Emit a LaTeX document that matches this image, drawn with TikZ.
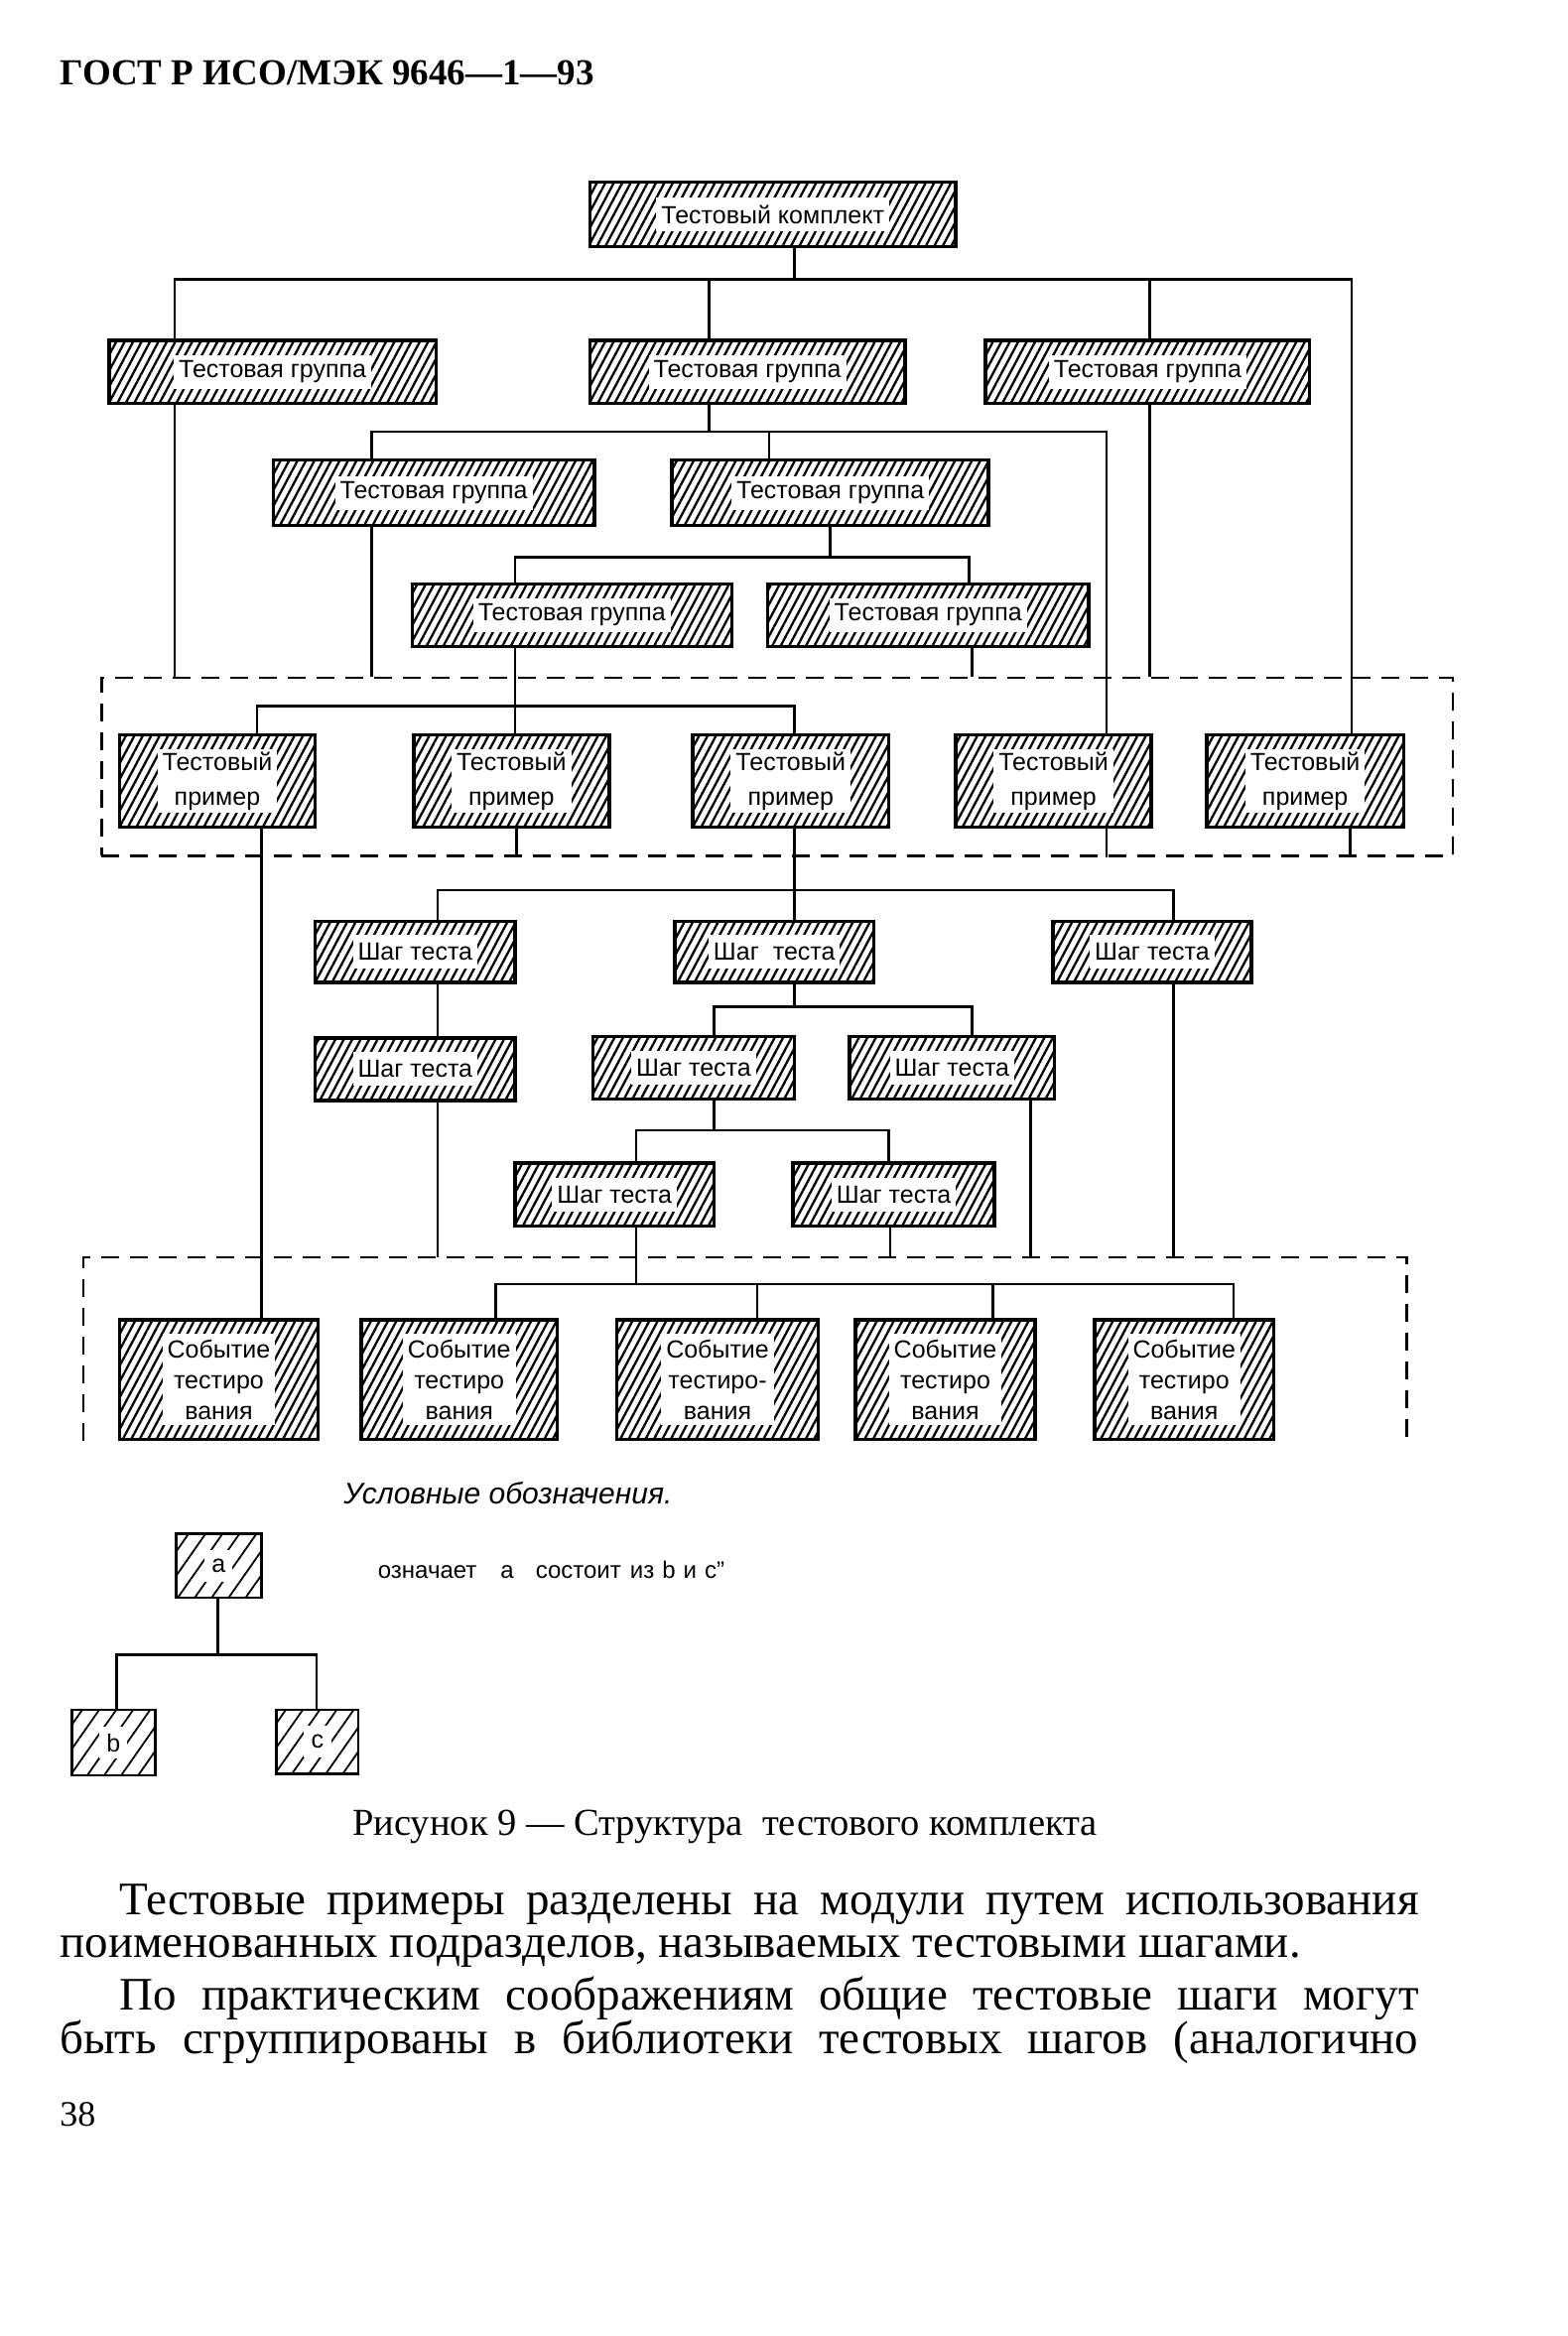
\documentclass[tikz,border=0pt]{standalone}
\usepackage{fontspec}
\setmainfont{Liberation Serif}
\newfontfamily\boxfont{Liberation Sans}
\usetikzlibrary{fit,patterns.meta}
\tikzset{
  hbox/.style={draw, line width=3.5pt, inner sep=0pt,
    pattern={Lines[angle=62,distance=7.5pt,line width=2.3pt]}},
  lbox/.style={draw, line width=2.6pt, inner sep=0pt,
    pattern={Lines[angle=55,distance=14pt,line width=1.8pt]}},
  tx/.style={fill=white, inner xsep=5pt, inner ysep=0pt, minimum height=34pt,
    align=center, font=\boxfont\fontsize{25}{35}\selectfont},
  tx2/.style={tx, minimum height=64pt},
  tx3/.style={tx, minimum height=92pt, font=\boxfont\fontsize{25}{31}\selectfont},
  ltx/.style={fill=white, inner sep=0pt, minimum width=28pt, minimum height=32pt,
    font=\boxfont\fontsize{25}{27}\selectfont},
  conn/.style={line width=2.6pt},
  dline/.style={line width=2.6pt, dash pattern=on 18pt off 11pt},
  plain/.style={anchor=base west, inner sep=0pt}
}
\newcommand\mybox[7]{%
  \node[hbox, fit={(#2,#3)(#4,#5)}] (#1) {};
  \node[#6] (#1t) at (#1.center) {#7};}
\begin{document}
\begin{tikzpicture}[x=1.504762pt,y=-1.504762pt]
\useasboundingbox (0,0) rectangle (1050,1564.37);
\fill[white] (0,0) rectangle (1050,1564.37);

% header
\node[plain, font=\bfseries\fontsize{37}{40}\selectfont] (hdr) at (40,57) {ГОСТ Р ИСО/МЭК 9646—1—93};

% boxes
\mybox{T0}{395}{122}{640}{165}{tx}{Тестовый комплект}
\mybox{G1}{73}{228}{292}{270}{tx}{Тестовая группа}
\mybox{G2}{395}{228}{606}{270}{tx}{Тестовая группа}
\mybox{G3}{660}{228}{877}{270}{tx}{Тестовая группа}
\mybox{G4}{183}{308}{398}{352}{tx}{Тестовая группа}
\mybox{G5}{450}{308}{662}{352}{tx}{Тестовая группа}
\mybox{G6}{276}{391}{490}{433}{tx}{Тестовая группа}
\mybox{G7}{514}{391}{729}{433}{tx}{Тестовая группа}

\mybox{TP1}{80}{492}{211}{554}{tx2}{Тестовый\\пример}
\mybox{TP2}{277}{492}{408}{554}{tx2}{Тестовый\\пример}
\mybox{TP3}{464}{492}{595}{554}{tx2}{Тестовый\\пример}
\mybox{TP4}{640}{492}{771}{554}{tx2}{Тестовый\\пример}
\mybox{TP5}{808}{492}{940}{554}{tx2}{Тестовый\\пример}

\mybox{S1}{211}{617}{345}{658}{tx}{Шаг теста}
\mybox{S2}{452}{617}{585}{658}{tx}{Шаг\ \ теста}
\mybox{S3}{705}{617}{838}{658}{tx}{Шаг теста}
\mybox{S4}{211}{695}{345}{737}{tx}{Шаг теста}
\mybox{Sm1}{397}{694}{532}{736}{tx}{Шаг теста}
\mybox{Sm2}{569}{694}{706}{736}{tx}{Шаг теста}
\mybox{S6}{345}{779}{478}{821}{tx}{Шаг теста}
\mybox{S7}{531}{779}{666}{821}{tx}{Шаг теста}

\mybox{E1}{80}{884}{213}{964}{tx3}{Событие\\тестиро\\вания}
\mybox{E2}{242}{884}{373}{964}{tx3}{Событие\\тестиро\\вания}
\mybox{E3}{413}{884}{548}{964}{tx3}{Событие\\тестиро-\\вания}
\mybox{E4}{573}{884}{693}{964}{tx3}{Событие\\тестиро\\вания}
\mybox{E5}{733}{884}{853}{964}{tx3}{Событие\\тестиро\\вания}

% dashed groupings
\node[dline, draw, inner sep=0pt, fit={(68,454)(973,573)}] (TC) {};
\node[inner sep=0pt, fit={(56,842)(942,965)}] (TE) {};
\draw[dline] (TE.south west) -- (TE.north west) -- (TE.north east) -- (TE.south east);

% connectors
\draw[conn] (T0.south -| 532,0) |- (117,187) -- (G1.north -| 117,0);
\draw[conn] (T0.south -| 532,0) |- (475,187) -- (G2.north -| 475,0);
\draw[conn] (T0.south -| 532,0) |- (770,187) -- (G3.north -| 770,0);
\draw[conn] (T0.south -| 532,0) |- (905,187) -- (TP5.north -| 905,0);

\draw[conn] (G1.south -| 117,0) -- (TC.north -| 117,0);
\draw[conn] (G2.south -| 475,0) |- (249,289) -- (G4.north -| 249,0);
\draw[conn] (G2.south -| 475,0) |- (515,289) -- (G5.north -| 515,0);
\draw[conn] (G2.south -| 475,0) |- (741,289) -- (TP4.north -| 741,0);
\draw[conn] (G3.south -| 770,0) -- (TC.north -| 770,0);
\draw[conn] (G4.south -| 249,0) -- (TC.north -| 249,0);
\draw[conn] (G5.south -| 556,0) |- (345,373) -- (G6.north -| 345,0);
\draw[conn] (G5.south -| 556,0) |- (649,373) -- (G7.north -| 649,0);
\draw[conn] (G6.south -| 345,0) -- (TP2.north -| 345,0);
\draw[conn] (G6.south -| 345,0) |- (172,473) -- (TP1.north -| 172,0);
\draw[conn] (G6.south -| 345,0) |- (532,473) -- (TP3.north -| 532,0);
\draw[conn] (G7.south -| 651,0) -- (TC.north -| 651,0);

\draw[conn] (TP1.south -| 175,0) -- (E1.north -| 175,0);
\draw[conn] (TP2.south -| 346,0) -- (TC.south -| 346,0);
\draw[conn] (TP3.south -| 532,0) -- (S2.north -| 532,0);
\draw[conn] (TP3.south -| 532,0) |- (293,596) -- (S1.north -| 293,0);
\draw[conn] (TP3.south -| 532,0) |- (786,596) -- (S3.north -| 786,0);
\draw[conn] (TP4.south -| 741,0) -- (TC.south -| 741,0);
\draw[conn] (TP5.south -| 904,0) -- (TC.south -| 904,0);

\draw[conn] (S1.south -| 293,0) -- (S4.north -| 293,0);
\draw[conn] (S4.south -| 293,0) -- (TE.north -| 293,0);
\draw[conn] (S2.south -| 532,0) |- (478,674) -- (Sm1.north -| 478,0);
\draw[conn] (S2.south -| 532,0) |- (651,674) -- (Sm2.north -| 651,0);
\draw[conn] (Sm1.south -| 478,0) |- (426,757) -- (S6.north -| 426,0);
\draw[conn] (Sm1.south -| 478,0) |- (595,757) -- (S7.north -| 595,0);
\draw[conn] (Sm2.south -| 690,0) -- (TE.north -| 690,0);
\draw[conn] (S3.south -| 786,0) -- (TE.north -| 786,0);
\draw[conn] (S6.south -| 426,0) |- (332,860) -- (E2.north -| 332,0);
\draw[conn] (S6.south -| 426,0) |- (507,860) -- (E3.north -| 507,0);
\draw[conn] (S6.south -| 426,0) |- (665,860) -- (E4.north -| 665,0);
\draw[conn] (S6.south -| 426,0) |- (826,860) -- (E5.north -| 826,0);
\draw[conn] (S7.south -| 596,0) -- (TE.north -| 596,0);

% legend
\node[plain, font=\boxfont\itshape\fontsize{30}{34}\selectfont] (legh) at (230,1007) {Условные обозначения.};
\node[lbox, fit={(118,1027)(175,1070)}] (La) {};
\node[ltx] (Lat) at (La.center) {a};
\node[lbox, fit={(48,1145)(104,1189)}] (Lb) {};
\node[ltx] (Lbt) at (Lb.center) {b};
\node[lbox, fit={(185,1145)(240,1188)}] (Lc) {};
\node[ltx] (Lct) at (Lc.center) {c};
\draw[conn] (La.south -| 146,0) |- (78,1108) -- (Lb.north -| 78,0);
\draw[conn] (La.south -| 146,0) |- (212,1108) -- (Lc.north -| 212,0);
\node[plain, font=\boxfont\fontsize{24}{26}\selectfont] (legt) at (253,1057)
  {означает\hspace{24pt}а\hspace{22pt}состоит\hspace{9pt}из\hspace{8pt}b\hspace{8pt}и\hspace{8pt}c”};

% caption
\node[plain, font=\fontsize{38.5}{42}\selectfont] (cap) at (236,1229) {Рисунок 9 — Структура\ \ тестового комплекта};

% body text
\node[plain, font=\fontsize{47}{52}\selectfont] (p1) at (80,1282)
  {\makebox[1309pt][s]{Тестовые примеры разделены на модули путем использования}};
\node[plain, font=\fontsize{47}{52}\selectfont] (p2) at (40,1311)
  {поименованных подразделов, называемых тестовыми шагами.};
\node[plain, font=\fontsize{47}{52}\selectfont] (p3) at (80,1346)
  {\makebox[1309pt][s]{По практическим соображениям общие тестовые шаги могут}};
\node[plain, font=\fontsize{47}{52}\selectfont] (p4) at (40,1375)
  {\makebox[1369pt][s]{быть сгруппированы в библиотеки тестовых шагов (аналогично}};
\node[plain, font=\fontsize{36}{40}\selectfont] (pg) at (40,1424) {38};
\end{tikzpicture}
\end{document}
